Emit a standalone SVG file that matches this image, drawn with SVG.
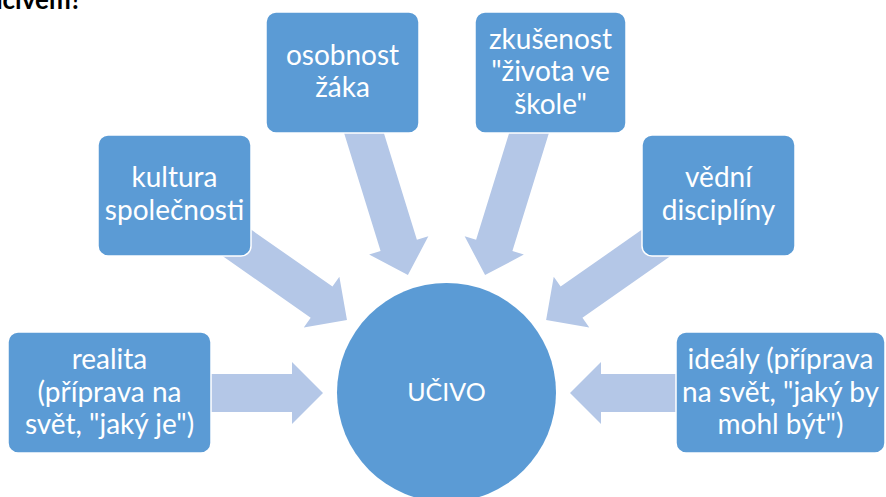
<svg xmlns="http://www.w3.org/2000/svg" width="886" height="497" viewBox="0 0 886 497">
<defs>
<style>
.arrow{fill:#B4C7E7;}
.box{fill:#5B9BD5;stroke:#FFFFFF;stroke-width:1.5;}
.lbl{fill:#FFFFFF;font-family:Lato,"Open Sans","Liberation Sans",sans-serif;font-size:28px;text-anchor:middle;}
.title{fill:#000000;font-family:Lato,"Liberation Sans",sans-serif;font-size:26px;font-weight:bold;text-anchor:end;}
</style>
</defs>
<rect width="886" height="497" fill="#FFFFFF"/>
<text class="title" x="82" y="9">učivem?</text>
<g id="connectors">
<polygon class="arrow" transform="translate(205,393)" points="0,-19 87,-19 87,-31 118,0 87,31 87,19 0,19"/>
<polygon class="arrow" transform="translate(682,393) rotate(180)" points="0,-19 81,-19 81,-31 112,0 81,31 81,19 0,19"/>
<polygon class="arrow" transform="translate(224.1,233.9) rotate(35)" points="0,-19 119,-19 119,-31 150,0 119,31 119,19 0,19"/>
<polygon class="arrow" transform="translate(669,233.9) rotate(145)" points="0,-19 119,-19 119,-31 150,0 119,31 119,19 0,19"/>
<polygon class="arrow" transform="translate(360.6,122.2) rotate(72.8)" points="0,-19 129,-19 129,-31 160,0 129,31 129,19 0,19"/>
<polygon class="arrow" transform="translate(532.4,122.2) rotate(107.2)" points="0,-19 129,-19 129,-31 160,0 129,31 129,19 0,19"/>
</g>
<g id="ucivo">
<circle cx="446.5" cy="392.5" r="109.5" fill="#5B9BD5"/>
<text class="lbl" x="446.5" y="401" style="font-size:25px">UČIVO</text>
</g>
<g id="osobnost">
<rect class="box" x="266" y="12" width="153" height="121" rx="10"/>
<text class="lbl" x="342.5" y="65">osobnost</text>
<text class="lbl" x="342.5" y="97">žáka</text>
</g>
<g id="zkusenost">
<rect class="box" x="475" y="12" width="151" height="121" rx="10"/>
<text class="lbl" x="550.5" y="48.5">zkušenost</text>
<text class="lbl" x="550.5" y="81">"života ve</text>
<text class="lbl" x="550.5" y="113.5">škole"</text>
</g>
<g id="kultura">
<rect class="box" x="98" y="135" width="153" height="121" rx="10"/>
<text class="lbl" x="174.5" y="187">kultura</text>
<text class="lbl" x="174.5" y="219.5">společnosti</text>
</g>
<g id="vedni">
<rect class="box" x="642" y="135" width="153" height="121" rx="10"/>
<text class="lbl" x="718.5" y="187">vědní</text>
<text class="lbl" x="718.5" y="219.5">disciplíny</text>
</g>
<g id="realita">
<rect class="box" x="8" y="332" width="203" height="121" rx="10"/>
<text class="lbl" x="109.5" y="369">realita</text>
<text class="lbl" x="109.5" y="401.5">(příprava na</text>
<text class="lbl" x="109.5" y="434">svět, "jaký je")</text>
</g>
<g id="idealy">
<rect class="box" x="676" y="332" width="209" height="121" rx="10"/>
<text class="lbl" x="780.5" y="369">ideály (příprava</text>
<text class="lbl" x="780.5" y="401.5">na svět, "jaký by</text>
<text class="lbl" x="780.5" y="434">mohl být")</text>
</g>
</svg>
